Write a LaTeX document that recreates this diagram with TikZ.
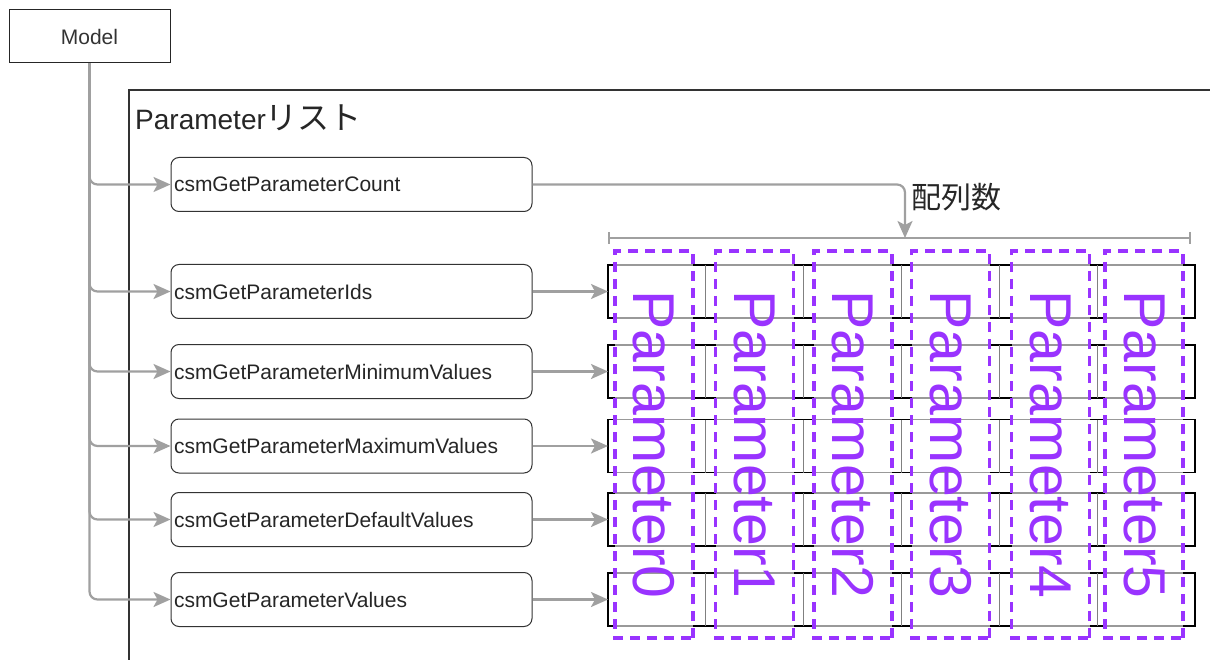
\documentclass[tikz,border=0pt]{standalone}
\usepackage{fontspec}
\setmainfont{Liberation Sans}
\newfontfamily\jpfont{Noto Sans CJK JP}
\usepackage{xcolor}
\usetikzlibrary{arrows.meta}
\definecolor{flowgray}{RGB}{160,160,160}
\definecolor{inkgray}{RGB}{51,51,51}
\definecolor{parampurple}{RGB}{153,51,255}
\tikzset{
  func box/.style = {draw=inkgray, line width=1pt, rounded corners=8pt,
    minimum width=361pt, minimum height=54pt, inner xsep=3pt,
    text width=355pt, align=left, text=black!85,
    font=\fontsize{21}{25}\selectfont}
}
\tikzset{
  array row/.style = {draw=black, line width=1.6pt, outer sep=0pt,
    minimum width=587pt, minimum height=53pt, inner sep=0pt}
}
\tikzset{
  cell divider/.style = {draw=black!50, line width=0.8pt}
}
\tikzset{
  param box/.style = {draw=parampurple, line width=3.4pt,
    dash pattern=on 10pt off 7pt, fill=white, fill opacity=0.6,
    text opacity=1, text=parampurple, minimum width=387pt,
    minimum height=78pt, inner sep=0pt,
    font=\fontsize{59}{59}\selectfont}
}
\tikzset{
  flow/.style = {draw=flowgray, line width=2.2pt, rounded corners=8pt,
    -{Stealth[length=17pt, width=15pt, inset=4pt]}}
}
\newcommand{\getterrow}[3]{
  \node[func box] (#1) at (351.5,#2) {#3};
  \node[array row] (#1 row) at (901.5,#2) {};
  \foreach \i in {1,...,5} {
    \draw[cell divider] (#1 row.north west) ++({\i*97.83},0) -- ++(0,53);
  }
  \draw[flow] (model.south) |- (#1.west);
  \draw[flow] (#1.east) -- (#1 row.west);
}

\begin{document}
\begin{tikzpicture}[x=1pt, y=-1pt]
  \useasboundingbox[fill=white] (0,0) rectangle (1210,660);

  % List frame
  \draw[draw=inkgray, line width=1.3pt] (129,660) -- (129,90) -- (1210,90);
  \node[anchor=west, inner sep=0pt, text=black!85,
    font=\fontsize{28}{32}\selectfont] (list title) at (135,118)
    {Parameter{\jpfont\fontsize{32}{34}\selectfont リスト}};

  \node[draw=black!85, line width=1pt, minimum width=161pt,
    minimum height=53pt, text=inkgray, font=\fontsize{21}{25}\selectfont]
    (model) at (89.5,36.5) {Model};

  % Count
  \node[func box] (count) at (351.5,184.5) {csmGetParameterCount};
  \draw[flow] (model.south) |- (count.west);

  % Getters and arrays
  \getterrow{ids}{291.5}{csmGetParameterIds}
  \getterrow{minv}{371.5}{csmGetParameterMinimumValues}
  \getterrow{maxv}{446}{csmGetParameterMaximumValues}
  \getterrow{defv}{519.5}{csmGetParameterDefaultValues}
  \getterrow{vals}{599.5}{csmGetParameterValues}

  % Array length
  \coordinate (bar left) at (608,238);
  \coordinate (bar right) at (1191,238);
  \coordinate (bar hit) at (905,238);
  \draw[flowgray, line width=1.6pt, {Bar[width=12pt]}-{Bar[width=12pt]}]
    (bar left) -- (bar right);
  \draw[flow] (count.east) -| (bar hit);
  \node[anchor=west, inner sep=0pt, text=black!85,
    font=\jpfont\fontsize{30}{32}\selectfont] (length label) at (911,197)
    {配列数};

  % Parameters
  \foreach \x/\n in {654/0, 754.5/1, 853/2, 950.5/3, 1050.5/4, 1144/5} {
    \node[param box, rotate=-90] (param\n) at (\x,444.5) {Parameter\n};
  }
\end{tikzpicture}
\end{document}
